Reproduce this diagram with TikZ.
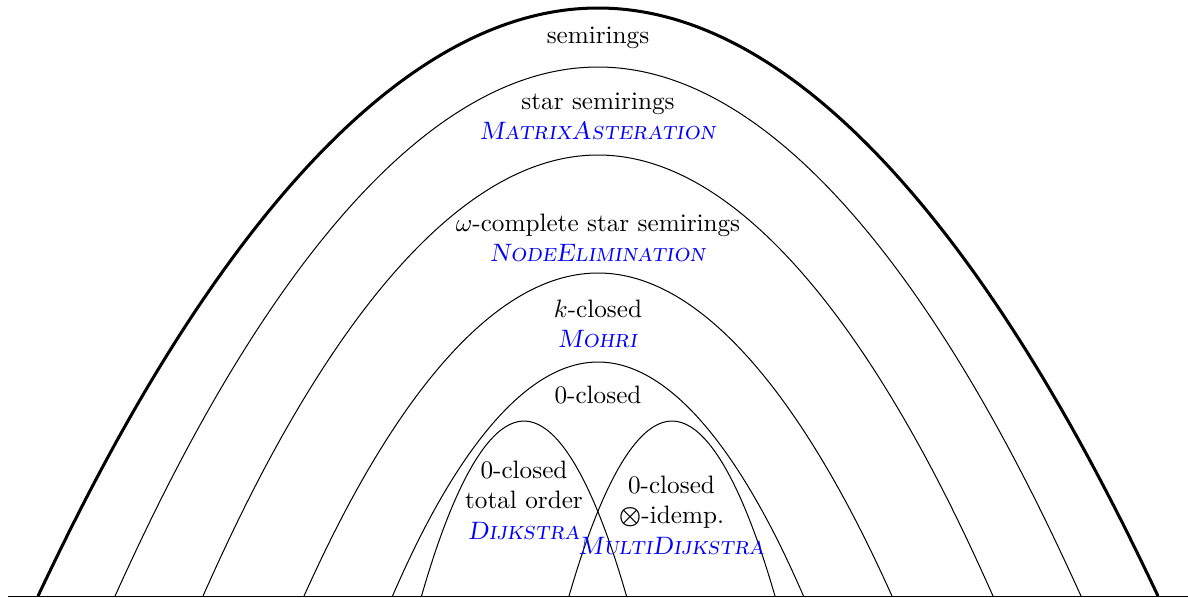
\documentclass[tikz,border=0pt]{standalone}
\newcommand\algname[1]{\textcolor{blue}{\textsc{\textit{#1}}}}
\begin{document}
\begin{tikzpicture}[x=0.397pt,y=-0.397pt,
  arch/.style={line width=0.4pt},
  outerarch/.style={line width=1.2pt},
  lbl/.style={align=center,anchor=base,inner sep=0pt}]
\useasboundingbox (0,0) rectangle (1188,597);
% base line
\coordinate (bl) at (8,596);
\coordinate (br) at (1188,596);
\draw[arch] (bl) -- (br);
% arches: left foot, apex, right foot
\coordinate (s1) at (38,596);   \coordinate (s2) at (598,8);   \coordinate (s3) at (1158,596);
\coordinate (t1) at (115,596);  \coordinate (t2) at (598,67);  \coordinate (t3) at (1081,596);
\coordinate (w1) at (203,596);  \coordinate (w2) at (598,155); \coordinate (w3) at (993,596);
\coordinate (k1) at (304,596);  \coordinate (k2) at (598,273); \coordinate (k3) at (892,596);
\coordinate (z1) at (392.5,596);\coordinate (z2) at (598,362); \coordinate (z3) at (803.5,596);
\coordinate (d1) at (421.5,596);\coordinate (d2) at (524,421); \coordinate (d3) at (626.5,596);
\coordinate (m1) at (569,596);  \coordinate (m2) at (672,421); \coordinate (m3) at (775,596);
\draw[outerarch] (s1) parabola bend (s2) (s3);
\draw[arch] (t1) parabola bend (t2) (t3);
\draw[arch] (w1) parabola bend (w2) (w3);
\draw[arch] (k1) parabola bend (k2) (k3);
\draw[arch] (z1) parabola bend (z2) (z3);
\draw[arch] (d1) parabola bend (d2) (d3);
\draw[arch] (m1) parabola bend (m2) (m3);
% labels (anchor at baseline of last line)
\node[lbl] (semi) at (598,43) {semirings};
\node[lbl] (star) at (598,139.3) {star semirings\\\algname{MatrixAsteration}};
\node[lbl] (omega) at (598,261.7) {$\omega$-complete star semirings\\\algname{NodeElimination}};
\node[lbl] (kcl) at (598,347.3) {$k$-closed\\\algname{Mohri}};
\node[lbl] (zcl) at (598,403.3) {0-closed};
\node[lbl] (dij) at (524,539) {0-closed\\total order\\\algname{Dijkstra}};
\node[lbl] (multi) at (671.5,554) {0-closed\\{\boldmath$\otimes$}-idemp.\\\algname{MultiDijkstra}};
\end{tikzpicture}
\end{document}
